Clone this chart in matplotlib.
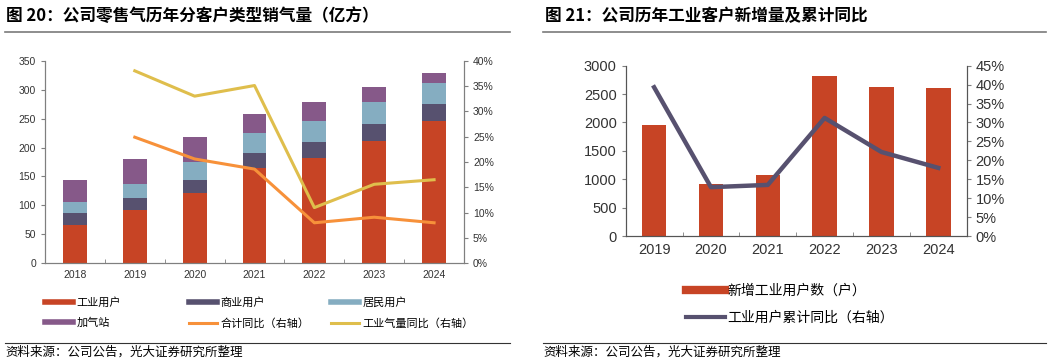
import matplotlib
matplotlib.use("Agg")
import matplotlib.pyplot as plt
import matplotlib.ticker as ticker
from matplotlib.lines import Line2D
import numpy as np

plt.rcParams["font.family"] = ["Liberation Sans", "Noto Sans CJK SC"]

# ── Left chart data: gas sales by customer type (亿方) ──────────────────────
years_l = ["2018", "2019", "2020", "2021", "2022", "2023", "2024"]
industrial = [66, 91.5, 121.5, 164, 182.5, 211, 246]
commercial = [21.5, 22, 22, 26, 27, 29.5, 30]
residential = [18.5, 23.5, 32, 35, 36, 37.5, 35]
station = [38.5, 44, 42, 33, 33, 26.5, 18]
total_yoy = [None, 24.9, 20.6, 18.6, 8.0, 9.1, 8.0]
ind_gas_yoy = [None, 38.0, 33.0, 35.1, 11.0, 15.6, 16.5]

# ── Right chart data: new industrial customers ──────────────────────────────
years_r = ["2019", "2020", "2021", "2022", "2023", "2024"]
new_ind = [1961, 916, 1080, 2818, 2630, 2601]
cum_yoy = [39.3, 12.9, 13.5, 31.2, 22.2, 18.0]

C_IND = "#C74425"
C_COM = "#57516F"
C_RES = "#85ADC1"
C_STA = "#865989"
C_TOT = "#F7913A"
C_GAS = "#DFBE4C"
C_CUM = "#57516F"
SPINE = "#7f7f7f"
TXT = "#333333"

fig = plt.figure(figsize=(10.54, 3.64), dpi=100)
W, H = 1054, 364

def fx(px):
    return px / W

def fy(py):
    return 1 - py / H

# ── Headers / rules / source ────────────────────────────────────────────────
fig.text(fx(6), fy(16), "图 20：公司零售气历年分客户类型销气量（亿方）", fontsize=12,
         fontweight="bold", va="center", ha="left", family=["Noto Sans CJK SC"])
fig.text(fx(545), fy(16), "图 21：公司历年工业客户新增量及累计同比", fontsize=12,
         fontweight="bold", va="center", ha="left", family=["Noto Sans CJK SC"])
fig.add_artist(Line2D([fx(5), fx(510)], [fy(32), fy(32)], color="#7a7a7a", lw=1.2))
fig.add_artist(Line2D([fx(543), fx(1046)], [fy(32), fy(32)], color="#7a7a7a", lw=1.2))
fig.add_artist(Line2D([fx(5), fx(510)], [fy(343), fy(343)], color="#333333", lw=0.8))
fig.add_artist(Line2D([fx(543), fx(1046)], [fy(343), fy(343)], color="#333333", lw=0.8))
fig.text(fx(5), fy(352), "资料来源：公司公告，光大证券研究所整理", fontsize=9,
         va="center", ha="left", family=["Noto Sans CJK SC"])
fig.text(fx(543), fy(352), "资料来源：公司公告，光大证券研究所整理", fontsize=9,
         va="center", ha="left", family=["Noto Sans CJK SC"])


def style_axes(ax, ax2, size):
    for a in (ax, ax2):
        for s in a.spines.values():
            s.set_color(SPINE)
            s.set_linewidth(0.8)
        a.spines["top"].set_visible(False)
        a.tick_params(axis="y", colors=SPINE, labelcolor=TXT, labelsize=size,
                      length=3, width=0.8)
    ax.tick_params(axis="x", colors=SPINE, labelcolor=TXT, labelsize=size,
                   length=0, width=0.8, pad=5)
    ax2.tick_params(axis="x", length=0)


# ── Left chart ───────────────────────────────────────────────────────────────
axl = fig.add_axes([fx(45), fy(263.3), fx(464 - 45), (263.3 - 60.7) / H])
xl = np.arange(len(years_l))
bw = 0.4
bottom = np.zeros(len(xl))
for vals, col in [(industrial, C_IND), (commercial, C_COM),
                  (residential, C_RES), (station, C_STA)]:
    axl.bar(xl, vals, bw, bottom=bottom, color=col, zorder=2)
    bottom += np.array(vals)
axl.set_xlim(-0.5, len(xl) - 0.5)
axl.set_ylim(0, 350)
axl.set_yticks(np.arange(0, 351, 50))
axl.set_xticks(xl)
axl.set_xticklabels(years_l)
axl.set_xticks(np.arange(0.5, len(xl) - 1, 1), minor=True)
axl.tick_params(axis="x", which="minor", direction="in", length=3, color=SPINE)

axl2 = axl.twinx()
axl2.plot(xl[1:], total_yoy[1:], color=C_TOT, lw=2.2, zorder=3)
axl2.plot(xl[1:], ind_gas_yoy[1:], color=C_GAS, lw=2.2, zorder=3)
axl2.set_ylim(0, 40)
axl2.set_yticks(np.arange(0, 41, 5))
axl2.yaxis.set_major_formatter(ticker.FormatStrFormatter("%d%%"))
style_axes(axl, axl2, 7.5)

# left legend, three columns placed by hand
lg_items = [
    [(Line2D([], [], color=C_IND, lw=4), "工业用户"),
     (Line2D([], [], color=C_STA, lw=4), "加气站")],
    [(Line2D([], [], color=C_COM, lw=4), "商业用户"),
     (Line2D([], [], color=C_TOT, lw=2.2), "合计同比（右轴）")],
    [(Line2D([], [], color=C_RES, lw=4), "居民用户"),
     (Line2D([], [], color=C_GAS, lw=2.2), "工业气量同比（右轴）")],
]
for col_x, items in zip([45, 189, 331], lg_items):
    fig.legend([h for h, _ in items], [t for _, t in items],
               loc="upper left", bbox_to_anchor=(fx(col_x), fy(297)),
               frameon=False, handlelength=2.5, handletextpad=0.35,
               labelspacing=0.9, borderaxespad=0, borderpad=0,
               prop={"family": ["Noto Sans CJK SC"], "size": 8})

# ── Right chart ──────────────────────────────────────────────────────────────
axr = fig.add_axes([fx(625.7), fy(236), fx(966.7 - 625.7), (236 - 65.7) / H])
xr = np.arange(len(years_r))
axr.bar(xr, new_ind, 0.43, color=C_IND, zorder=2)
axr.set_xlim(-0.5, len(xr) - 0.5)
axr.set_ylim(0, 3000)
axr.set_yticks(np.arange(0, 3001, 500))
axr.set_xticks(xr)
axr.set_xticklabels(years_r)
axr.set_xticks(np.arange(0.5, len(xr) - 1, 1), minor=True)
axr.tick_params(axis="x", which="minor", direction="in", length=3, color=SPINE)

axr2 = axr.twinx()
axr2.plot(xr, cum_yoy, color=C_CUM, lw=3.2, zorder=3)
axr2.set_ylim(0, 45)
axr2.set_yticks(np.arange(0, 46, 5))
axr2.yaxis.set_major_formatter(ticker.FormatStrFormatter("%d%%"))
style_axes(axr, axr2, 10.5)
for a in (axr, axr2):
    for s in a.spines.values():
        s.set_color("#555555")

fig.legend([Line2D([], [], color=C_IND, lw=6), Line2D([], [], color=C_CUM, lw=3)],
           ["新增工业用户数（户）", "工业用户累计同比（右轴）"],
           loc="upper left", bbox_to_anchor=(fx(686), fy(284)),
           frameon=False, handlelength=2.8, handletextpad=0.2, labelspacing=0.9,
           borderaxespad=0, borderpad=0,
           prop={"family": ["Noto Sans CJK SC"], "size": 10})

fig.savefig("out.png", dpi=100)
